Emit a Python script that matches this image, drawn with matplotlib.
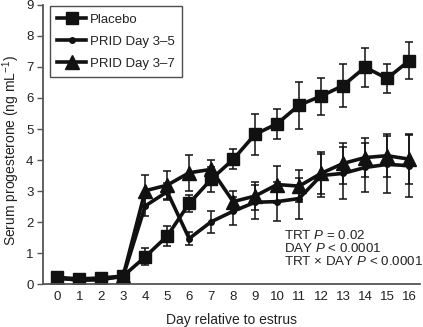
import matplotlib.pyplot as plt
from matplotlib.lines import Line2D

plt.rcParams['font.family'] = ['Liberation Sans', 'DejaVu Sans']
plt.rcParams['mathtext.fontset'] = 'custom'
plt.rcParams['mathtext.it'] = 'Liberation Sans:italic'
plt.rcParams['mathtext.rm'] = 'Liberation Sans'

days = list(range(17))

placebo = [0.22, 0.17, 0.2, 0.26, 0.88, 1.55, 2.6, 3.38, 4.02, 4.83, 5.17, 5.77,
           6.06, 6.4, 6.99, 6.63, 7.2]
placebo_err = [0.08, 0.05, 0.06, 0.08, 0.27, 0.32, 0.27, 0.4, 0.32, 0.67, 0.49, 0.76,
               0.6, 0.7, 0.62, 0.47, 0.6]

prid35 = [0.2, 0.13, 0.15, 0.25, 2.52, 2.98, 1.47, 2.01, 2.35, 2.64, 2.66, 2.76,
          3.5, 3.57, 3.76, 3.86, 3.82]
prid35_err = [0.05, 0.04, 0.05, 0.08, 0.33, 0.27, 0.22, 0.35, 0.45, 0.55, 0.63, 0.65,
              0.68, 0.84, 0.8, 0.92, 1.0]

prid37 = [0.2, 0.13, 0.15, 0.27, 3.01, 3.19, 3.59, 3.7, 2.66, 2.84, 3.21, 3.16,
          3.57, 3.89, 4.08, 4.14, 4.03]
prid37_err = [0.05, 0.04, 0.05, 0.08, 0.5, 0.46, 0.58, 0.3, 0.35, 0.46, 0.6, 0.52,
              0.68, 0.65, 0.64, 0.7, 0.8]

series = [
    ('Placebo', placebo, placebo_err, 's', 9),
    ('PRID Day 3\u20135', prid35, prid35_err, 'o', 4),
    ('PRID Day 3\u20137', prid37, prid37_err, '^', 9.5),
]

fig = plt.figure(figsize=(4.23, 3.27), dpi=100)
ax = fig.add_axes([0.102, 0.131, 0.891, 0.854])

text_color = '#222222'
line_color = '#111111'
handles = []
for label, vals, errs, mk, ms in series:
    ax.errorbar(days, vals, yerr=errs, color=line_color, lw=2.6, marker=mk, ms=ms,
                elinewidth=1.1, capsize=3, capthick=1.1)
    handles.append(Line2D([], [], color=line_color, lw=2.6, marker=mk, ms=ms,
                          label=label))

ax.set_xlim(-0.64, 16.5)
ax.set_ylim(0, 9)
ax.set_xticks(days)
ax.set_yticks(range(10))
ax.tick_params(axis='x', length=0, pad=5, labelsize=9.5, colors=text_color)
ax.tick_params(axis='y', length=4, width=1, pad=3, labelsize=9.5, colors=text_color)
ax.tick_params(axis='y', color='#555555')
ax.spines['top'].set_visible(False)
ax.spines['right'].set_visible(False)
for s in ('left', 'bottom'):
    ax.spines[s].set_color('#555555')
    ax.spines[s].set_linewidth(1.3)

ax.set_xlabel('Day relative to estrus', fontsize=10, color=text_color, labelpad=7)
ax.set_ylabel('Serum progesterone (ng mL$^{-1}$)', fontsize=10, color=text_color)
ax.yaxis.set_label_coords(-0.056, 0.48)

stats = ['TRT $P$ = 0.02', 'DAY $P$ < 0.0001', 'TRT \u00d7 DAY $P$ < 0.0001']
for i, t in enumerate(stats):
    ax.text(10.3, 1.58 - i * 0.43, t, fontsize=9.6, color=text_color, va='center')

leg = ax.legend(handles=handles, loc='upper left', bbox_to_anchor=(0.015, 1.0),
                fontsize=9.5, frameon=True, fancybox=False, edgecolor='#222222',
                handlelength=2.2, handletextpad=0.3, borderpad=0.55,
                labelspacing=0.75, borderaxespad=0.1)
leg.get_frame().set_linewidth(1.0)
for t in leg.get_texts():
    t.set_color(text_color)

fig.savefig('out.png', dpi=100)
